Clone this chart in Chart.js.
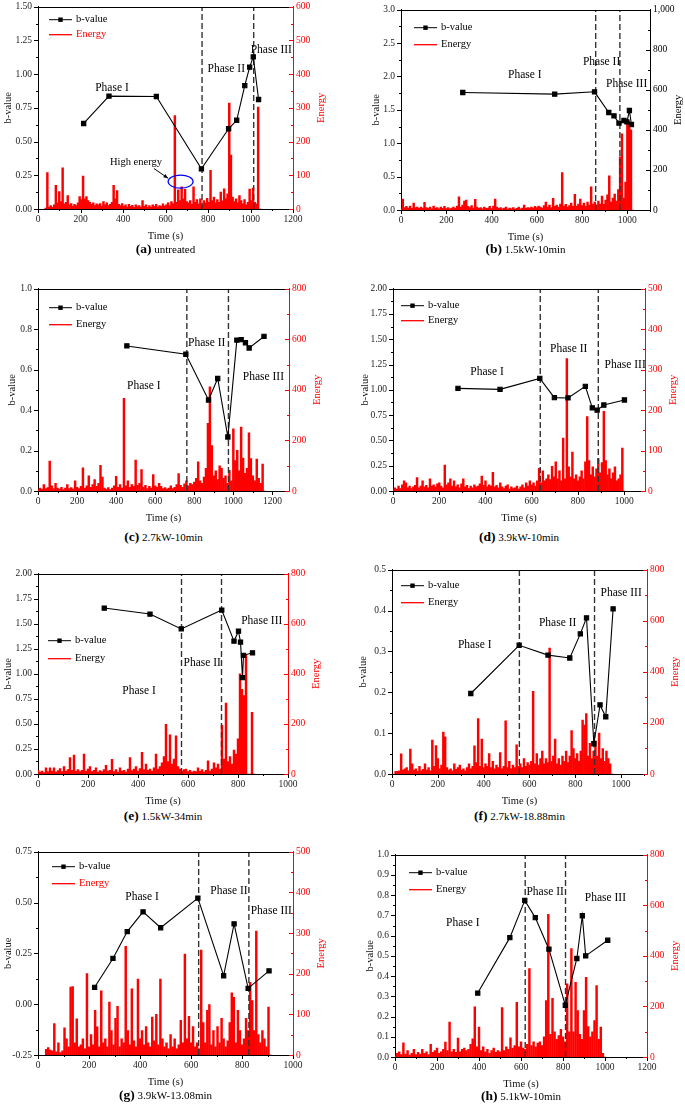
<!DOCTYPE html>
<html>
<head>
<meta charset="utf-8">
<script src="https://cdn.jsdelivr.net/npm/chart.js@4.4.1/dist/chart.umd.min.js"></script>
<style>
html, body { margin: 0; padding: 0; background: #fff; }
#page { position: relative; width: 685px; height: 1106px; overflow: hidden; font-family: 'Liberation Serif', 'Times New Roman', serif; }
.panel { position: absolute; }
.cap { position: absolute; transform: translate(-50%, -50%); white-space: nowrap; font-size: 11px; color: #000; }
.cap b { font-size: 13.5px; }
</style>
</head>
<body>
<div id="page"></div>
<script>
// ---- data ----
// b-value points (time s, b)
const aBTime = [215, 334, 557, 769, 897, 935, 973, 996, 1013, 1038];
const aBValue = [0.634, 0.837, 0.834, 0.298, 0.595, 0.658, 0.915, 1.052, 1.128, 0.812];
const bBTime = [273, 679, 855, 918, 941, 963, 985, 998, 1009, 1018];
const bBValue = [1.76, 1.735, 1.77, 1.46, 1.41, 1.30, 1.34, 1.32, 1.49, 1.28];
const cBTime = [455, 757, 873, 920, 972, 1018, 1040, 1062, 1081, 1157];
const cBValue = [0.717, 0.676, 0.450, 0.556, 0.267, 0.746, 0.748, 0.733, 0.707, 0.764];
const dBTime = [281, 463, 635, 698, 757, 832, 862, 883, 912, 1001];
const dBValue = [1.015, 1.005, 1.113, 0.923, 0.920, 1.034, 0.822, 0.80, 0.85, 0.90];
const eBTime = [265, 448, 573, 735, 784, 802, 810, 818, 822, 858];
const eBValue = [1.657, 1.597, 1.449, 1.637, 1.327, 1.426, 1.317, 0.963, 1.185, 1.21];
const fBTime = [344, 555, 681, 776, 822, 849, 881, 908, 933, 965];
const fBValue = [0.197, 0.315, 0.291, 0.284, 0.343, 0.382, 0.074, 0.169, 0.140, 0.404];
const gBTime = [222, 294, 350, 412, 481, 627, 728, 769, 824, 906];
const gBValue = [0.083, 0.225, 0.357, 0.454, 0.376, 0.522, 0.140, 0.395, 0.078, 0.164];
const hBTime = [394, 547, 618, 668, 733, 811, 866, 892, 908, 1013];
const hBValue = [0.316, 0.590, 0.774, 0.689, 0.533, 0.256, 0.487, 0.698, 0.500, 0.577];

// phase boundaries (s)
const aPhaseLines = [772, 1015];
const bPhaseLines = [860, 967];
const cPhaseLines = [762, 975];
const dPhaseLines = [637, 888];
const ePhaseLines = [574, 734];
const fPhaseLines = [556, 884];
const gPhaseLines = [630, 827];
const hPhaseLines = [620, 812];

// energy, read at a fixed time step from the picture
const aEnergyStart = 36, aEnergyStep = 8;
const aEnergy = [
  3, 108, 6, 10, 5, 12, 70, 18, 52, 22,
  122, 15, 20, 40, 12, 16, 9, 14, 10, 18,
  37, 28, 98, 30, 37, 25, 20, 14, 18, 10,
  15, 12, 16, 9, 22, 12, 18, 10, 14, 20,
  70, 30, 55, 14, 10, 16, 8, 12, 6, 14,
  8, 11, 5, 12, 7, 10, 6, 25, 8, 12,
  5, 10, 6, 12, 8, 14, 6, 10, 8, 15,
  9, 12, 18, 10, 22, 15, 277, 20, 57, 25,
  66, 30, 58, 22, 18, 25, 14, 66, 20, 28,
  15, 30, 12, 25, 18, 32, 20, 115, 25, 35,
  18, 28, 20, 50, 24, 60, 30, 45, 314, 160,
  35, 22, 30, 18, 40, 25, 15, 28, 12, 20,
  59, 25, 62, 20, 15, 302, 0
];
const bEnergyStart = 0, bEnergyStep = 8;
const bEnergy = [
  5, 55, 12, 18, 10, 20, 8, 35, 12, 15,
  8, 14, 10, 38, 12, 8, 15, 6, 20, 10,
  12, 6, 14, 8, 18, 7, 12, 6, 10, 14,
  8, 20, 66, 15, 25, 45, 50, 18, 12, 22,
  10, 53, 14, 8, 12, 6, 15, 8, 10, 18,
  7, 20, 55, 14, 8, 12, 6, 10, 15, 5,
  9, 6, 12, 5, 8, 14, 6, 10, 25, 8,
  12, 9, 15, 10, 18, 12, 20, 14, 10, 22,
  40, 15, 25, 12, 58, 18, 25, 14, 30, 187,
  20, 28, 15, 22, 35, 18, 78, 20, 30, 55,
  22, 35, 18, 40, 25, 116, 30, 40, 25, 45,
  30, 70, 28, 50, 76, 170, 40, 60, 80, 45,
  102, 265, 380, 60, 140, 430, 440, 400, 0
];
const cEnergyStart = 0, cEnergyStep = 10;
const cEnergy = [
  5, 12, 8, 25, 10, 14, 118, 20, 10, 30,
  12, 8, 15, 6, 12, 25, 10, 14, 8, 40,
  15, 10, 18, 92, 12, 20, 60, 15, 25, 45,
  18, 30, 102, 55, 12, 8, 14, 6, 12, 20,
  58, 15, 25, 12, 366, 20, 40, 15, 25, 18,
  122, 22, 30, 85, 15, 22, 10, 18, 12, 65,
  20, 15, 30, 18, 10, 14, 8, 12, 20, 10,
  15, 25, 69, 22, 15, 28, 40, 20, 30, 25,
  35, 50, 115, 40, 30, 55, 90, 268, 412, 180,
  60, 80, 45, 100, 90, 50, 60, 30, 82, 40,
  246, 120, 161, 80, 253, 130, 70, 90, 230, 128,
  60, 40, 126, 50, 30, 106, 0
];
const dEnergyStart = 0, dEnergyStep = 8;
const dEnergy = [
  3, 8, 5, 12, 6, 15, 25, 20, 8, 12,
  6, 10, 14, 33, 8, 12, 25, 10, 14, 8,
  30, 12, 15, 10, 18, 20, 12, 8, 64, 15,
  20, 30, 12, 25, 10, 15, 8, 18, 30, 10,
  14, 6, 12, 8, 15, 10, 12, 18, 37, 14,
  25, 10, 15, 12, 46, 10, 14, 8, 20, 10,
  6, 12, 15, 5, 10, 6, 8, 12, 5, 10,
  15, 8, 20, 12, 25, 15, 20, 12, 25, 56,
  20, 50, 25, 30, 40, 28, 61, 35, 72, 30,
  50, 25, 131, 30, 327, 60, 35, 96, 30, 40,
  25, 35, 50, 30, 72, 184, 75, 40, 60, 35,
  55, 80, 45, 70, 197, 75, 40, 55, 30, 45,
  60, 25, 30, 40, 106, 0
];
const eEnergyStart = 0, eEnergyStep = 8;
const eEnergy = [
  15, 8, 12, 6, 25, 10, 25, 12, 25, 8,
  14, 22, 10, 30, 12, 18, 66, 15, 76, 12,
  18, 10, 15, 80, 12, 20, 30, 10, 15, 25,
  8, 14, 10, 18, 35, 12, 15, 59, 10, 18,
  8, 25, 12, 15, 8, 20, 66, 14, 20, 30,
  12, 22, 87, 18, 40, 15, 20, 12, 25, 80,
  20, 30, 45, 70, 198, 50, 156, 40, 60, 152,
  30, 20, 12, 18, 20, 10, 15, 8, 12, 10,
  25, 12, 18, 8, 15, 53, 12, 20, 45, 25,
  40, 20, 194, 60, 283, 50, 70, 40, 96, 80,
  140, 400, 338, 313, 477, 0, 0, 246, 0
];
const fEnergyStart = 8, fEnergyStep = 8;
const fEnergy = [
  0, 10, 10, 12, 79, 15, 20, 25, 12, 98,
  40, 15, 20, 10, 30, 12, 18, 40, 15, 25,
  12, 133, 30, 111, 60, 20, 35, 164, 146, 25,
  15, 20, 12, 40, 18, 25, 35, 15, 20, 12,
  25, 40, 20, 30, 110, 45, 217, 30, 137, 25,
  40, 30, 80, 25, 50, 20, 35, 25, 84, 20,
  30, 208, 25, 50, 20, 35, 25, 114, 30, 40,
  25, 60, 30, 45, 35, 50, 324, 40, 80, 35,
  60, 90, 40, 60, 45, 493, 50, 70, 137, 40,
  60, 35, 70, 50, 90, 45, 70, 170, 100, 60,
  80, 50, 90, 211, 192, 237, 70, 120, 60, 90,
  130, 70, 160, 60, 100, 50, 90, 60, 40, 0
];
const gEnergyStart = 32, gEnergyStep = 8;
const gEnergy = [
  14, 18, 12, 10, 77, 8, 30, 6, 10, 67,
  40, 20, 167, 168, 30, 89, 20, 25, 40, 15,
  200, 20, 50, 25, 110, 69, 20, 158, 30, 40,
  20, 130, 60, 25, 90, 120, 20, 40, 30, 267,
  60, 25, 163, 35, 20, 187, 40, 60, 25, 70,
  30, 20, 93, 35, 100, 25, 187, 40, 20, 30,
  15, 50, 20, 40, 15, 25, 85, 30, 248, 40,
  95, 30, 70, 20, 30, 15, 258, 80, 30, 110,
  124, 25, 60, 20, 70, 30, 90, 40, 20, 35,
  80, 153, 142, 30, 110, 60, 25, 40, 90, 60,
  179, 134, 60, 305, 50, 30, 60, 40, 20, 118,
  0
];
const hEnergyStart = 0, hEnergyStep = 10;
const hEnergy = [
  5, 15, 20, 10, 56, 12, 25, 8, 15, 30,
  10, 18, 12, 30, 15, 20, 10, 50, 18, 25,
  35, 15, 20, 30, 59, 25, 138, 20, 30, 18,
  75, 20, 30, 35, 25, 30, 50, 72, 198, 40,
  118, 25, 40, 20, 30, 15, 25, 35, 18, 25,
  20, 195, 25, 40, 30, 76, 35, 45, 216, 40,
  60, 35, 30, 50, 350, 45, 60, 40, 55, 60,
  45, 80, 223, 564, 90, 232, 100, 70, 85, 109,
  80, 60, 289, 100, 429, 100, 295, 184, 90, 70,
  184, 315, 120, 80, 100, 144, 282, 70, 118, 15,
  0
];

// ---- layout of the eight panels (page pixels) ----
const FAMILY = "'Liberation Serif', 'Times New Roman', serif";
const RED = '#ff0000';
const TOP_PAD = 10, RIGHT_W = 36, BOTTOM_H = 34;

const panels = [
  { key: 'a', caption: 'untreated', L: 38, R: 293, T: 5, B: 209, leftW: 36, capY: 249,
    xMax: 1200, xStep: 200, yMin: 0, yMax: 1.5, yStep: 0.25, yDec: 2, eMax: 600, eStep: 100,
    rightColor: RED, energyText: RED, legend: { dx: 11, dy: 13, gap: 15 },
    time: aBTime, bval: aBValue, e0: aEnergyStart, edt: aEnergyStep, energy: aEnergy, lines: aPhaseLines,
    phaseText: [['Phase I', 348, 0.90], ['Phase II', 886, 1.04], ['Phase III', 1098, 1.18]],
    note: { text: 'High energy', tx: 461, tb: 0.345, ex: 671, eb: 0.203, rx: 12.5, ry: 6.5, from: [546, 0.30], to: [612, 0.228] } },
  { key: 'b', caption: '1.5kW-10min', L: 401, R: 650, T: 8, B: 210, leftW: 31, capY: 249,
    xMax: 1100, xStep: 200, yMin: 0, yMax: 3, yStep: 0.5, yDec: 1, eMax: 1000, eStep: 200,
    rightColor: '#000', energyText: '#000', legend: { dx: 13, dy: 18, gap: 17 },
    time: bBTime, bval: bBValue, e0: bEnergyStart, edt: bEnergyStep, energy: bEnergy, lines: bPhaseLines,
    phaseText: [['Phase I', 547, 2.02], ['Phase II', 886, 2.22], ['Phase III', 997, 1.88]] },
  { key: 'c', caption: '2.7kW-10min', L: 38, R: 289, T: 287, B: 491, leftW: 32, capY: 537,
    xMax: 1285, xStep: 200, yMin: 0, yMax: 1, yStep: 0.2, yDec: 1, eMax: 800, eStep: 200,
    rightColor: RED, energyText: '#000', legend: { dx: 11, dy: 19, gap: 17 },
    time: cBTime, bval: cBValue, e0: cEnergyStart, edt: cEnergyStep, energy: cEnergy, lines: cPhaseLines,
    phaseText: [['Phase I', 542, 0.517], ['Phase II', 864, 0.73], ['Phase III', 1154, 0.566]] },
  { key: 'd', caption: '3.9kW-10min', L: 393, R: 645, T: 287, B: 491, leftW: 34, capY: 537,
    xMax: 1090, xStep: 200, yMin: 0, yMax: 2, yStep: 0.25, yDec: 2, eMax: 500, eStep: 100,
    rightColor: RED, energyText: '#000', legend: { dx: 8, dy: 17, gap: 15 },
    time: dBTime, bval: dBValue, e0: dEnergyStart, edt: dEnergyStep, energy: dEnergy, lines: dPhaseLines,
    phaseText: [['Phase I', 407, 1.18], ['Phase II', 760, 1.40], ['Phase III', 1004, 1.244]] },
  { key: 'e', caption: '1.5kW-34min', L: 38, R: 288, T: 572, B: 774, leftW: 36, capY: 816,
    xMax: 1000, xStep: 200, yMin: 0, yMax: 2, yStep: 0.25, yDec: 2, eMax: 800, eStep: 200,
    rightColor: RED, energyText: '#000', legend: { dx: 10, dy: 67, gap: 18 },
    time: eBTime, bval: eBValue, e0: eEnergyStart, edt: eEnergyStep, energy: eEnergy, lines: ePhaseLines,
    phaseText: [['Phase I', 404, 0.83], ['Phase II', 657, 1.11], ['Phase III', 895, 1.525]] },
  { key: 'f', caption: '2.7kW-18.88min', L: 392, R: 647, T: 568, B: 774, leftW: 35, capY: 816,
    xMax: 1113, xStep: 200, yMin: 0, yMax: 0.5, yStep: 0.1, yDec: 1, eMax: 800, eStep: 200,
    rightColor: RED, energyText: '#000', legend: { dx: 9, dy: 16, gap: 17 },
    time: fBTime, bval: fBValue, e0: fEnergyStart, edt: fEnergyStep, energy: fEnergy, lines: fPhaseLines,
    phaseText: [['Phase I', 361, 0.315], ['Phase II', 723, 0.37], ['Phase III', 1000, 0.444]] },
  { key: 'g', caption: '3.9kW-13.08min', L: 38, R: 293, T: 850, B: 1055, leftW: 36, capY: 1095,
    xMax: 1000, xStep: 200, yMin: -0.25, yMax: 0.75, yStep: 0.25, yDec: 2, eMax: 500, eStep: 100,
    rightColor: RED, energyText: RED, legend: { dx: 14, dy: 15, gap: 17 },
    time: gBTime, bval: gBValue, e0: gEnergyStart, edt: gEnergyStep, energy: gEnergy, lines: gPhaseLines,
    phaseText: [['Phase I', 408, 0.527], ['Phase II', 749, 0.558], ['Phase III', 915, 0.457]] },
  { key: 'h', caption: '5.1kW-10min', L: 395, R: 647, T: 853, B: 1057, leftW: 31, capY: 1096,
    xMax: 1200, xStep: 200, yMin: 0, yMax: 1, yStep: 0.1, yDec: 1, eMax: 800, eStep: 200,
    rightColor: RED, energyText: '#000', legend: { dx: 14, dy: 18, gap: 17 },
    time: hBTime, bval: hBValue, e0: hEnergyStart, edt: hEnergyStep, energy: hEnergy, lines: hPhaseLines,
    phaseText: [['Phase I', 323, 0.664], ['Phase II', 715, 0.816], ['Phase III', 1002, 0.787]] }
];

Chart.defaults.font.family = FAMILY;

function seg(ctx, x1, y1, x2, y2) {
  ctx.beginPath();
  ctx.moveTo(x1, y1);
  ctx.lineTo(x2, y2);
  ctx.stroke();
}

// major + minor tick marks along a scale
function marks(ctx, scale, step, color, draw) {
  ctx.strokeStyle = color;
  ctx.lineWidth = 1;
  const half = step / 2;
  const n = Math.floor((scale.max - scale.min) / half + 1e-6);
  for (let k = 0; k <= n; k++) {
    const px = Math.round(scale.getPixelForValue(scale.min + k * half)) + 0.5;
    draw(px, k % 2 === 0 ? 4 : 2);
  }
}

function decorPlugin(p) {
  return {
    id: 'decor_' + p.key,
    afterDraw(chart) {
      const { ctx, chartArea: a, scales } = chart;
      const sx = scales.x, sy = scales.y, se = scales.y1;
      ctx.save();

      ctx.strokeStyle = '#000';
      ctx.lineWidth = 1;
      seg(ctx, a.left, Math.round(a.top) + 0.5, a.right, Math.round(a.top) + 0.5);

      marks(ctx, sx, p.xStep, '#000', (px, len) => seg(ctx, px, a.bottom, px, a.bottom + len));
      marks(ctx, sy, p.yStep, '#000', (py, len) => seg(ctx, a.left - len, py, a.left, py));
      marks(ctx, se, p.eStep, p.rightColor, (py, len) => seg(ctx, a.right - len, py, a.right, py));

      // right axis title, reading upward like the left one
      ctx.save();
      ctx.translate(a.right + 28, (a.top + a.bottom) / 2);
      ctx.rotate(-Math.PI / 2);
      ctx.fillStyle = p.rightColor;
      ctx.font = '10.5px ' + FAMILY;
      ctx.textAlign = 'center';
      ctx.textBaseline = 'middle';
      ctx.fillText('Energy', 0, 0);
      ctx.restore();

      // phase labels
      ctx.fillStyle = '#000';
      ctx.font = '11.5px ' + FAMILY;
      ctx.textAlign = 'center';
      ctx.textBaseline = 'middle';
      p.phaseText.forEach(([txt, t, b]) => {
        ctx.fillText(txt, sx.getPixelForValue(t), sy.getPixelForValue(b));
      });

      // legend
      const lx = a.left + p.legend.dx, ly = a.top + p.legend.dy, ly2 = ly + p.legend.gap;
      ctx.strokeStyle = '#000';
      ctx.lineWidth = 1;
      seg(ctx, lx, ly, lx + 23, ly);
      ctx.fillStyle = '#000';
      ctx.fillRect(lx + 11.5 - 2.2, ly - 2.2, 4.4, 4.4);
      ctx.font = '10.5px ' + FAMILY;
      ctx.textAlign = 'left';
      ctx.fillText('b-value', lx + 27, ly);
      ctx.strokeStyle = RED;
      ctx.lineWidth = 1.3;
      seg(ctx, lx, ly2, lx + 23, ly2);
      ctx.fillStyle = p.energyText;
      ctx.fillText('Energy', lx + 27, ly2);

      if (p.note) {
        const n = p.note;
        ctx.strokeStyle = '#0000ff';
        ctx.lineWidth = 1.2;
        ctx.beginPath();
        ctx.ellipse(sx.getPixelForValue(n.ex), sy.getPixelForValue(n.eb), n.rx, n.ry, 0, 0, Math.PI * 2);
        ctx.stroke();
        const x1 = sx.getPixelForValue(n.from[0]), y1 = sy.getPixelForValue(n.from[1]);
        const x2 = sx.getPixelForValue(n.to[0]), y2 = sy.getPixelForValue(n.to[1]);
        ctx.strokeStyle = '#000';
        ctx.lineWidth = 1;
        seg(ctx, x1, y1, x2, y2);
        const ang = Math.atan2(y2 - y1, x2 - x1);
        ctx.fillStyle = '#000';
        ctx.beginPath();
        ctx.moveTo(x2, y2);
        ctx.lineTo(x2 - 5 * Math.cos(ang - 0.4), y2 - 5 * Math.sin(ang - 0.4));
        ctx.lineTo(x2 - 5 * Math.cos(ang + 0.4), y2 - 5 * Math.sin(ang + 0.4));
        ctx.closePath();
        ctx.fill();
        ctx.font = '10.5px ' + FAMILY;
        ctx.textAlign = 'center';
        ctx.fillText(n.text, sx.getPixelForValue(n.tx), sy.getPixelForValue(n.tb));
      }
      ctx.restore();
    }
  };
}

function buildPanel(p) {
  const page = document.getElementById('page');
  const W = p.leftW + (p.R - p.L) + RIGHT_W;
  const H = TOP_PAD + (p.B - p.T) + BOTTOM_H;
  const wrap = document.createElement('div');
  wrap.className = 'panel';
  wrap.style.left = (p.L - p.leftW) + 'px';
  wrap.style.top = (p.T - TOP_PAD) + 'px';
  wrap.style.width = W + 'px';
  wrap.style.height = H + 'px';
  const cv = document.createElement('canvas');
  cv.width = W;
  cv.height = H;
  cv.style.width = W + 'px';
  cv.style.height = H + 'px';
  wrap.appendChild(cv);
  page.appendChild(wrap);

  const cap = document.createElement('div');
  cap.className = 'cap';
  cap.style.left = ((p.L + p.R) / 2) + 'px';
  cap.style.top = p.capY + 'px';
  cap.innerHTML = '<b>(' + p.key + ')</b> ' + p.caption;
  page.appendChild(cap);

  const energyPts = p.energy.map((e, i) => ({ x: p.e0 + i * p.edt, y: e }));
  const bPts = p.time.map((t, i) => ({ x: t, y: p.bval[i] }));
  const phaseSets = p.lines.map(t => ({
    data: [{ x: t, y: p.yMin }, { x: t, y: p.yMax }],
    yAxisID: 'y', borderColor: '#333', borderWidth: 1.4, borderDash: [6, 3],
    pointRadius: 0, fill: false, order: 2
  }));

  const tickFont = { size: 9.5, family: FAMILY };
  const titleFont = { size: 10.5, family: FAMILY };

  new Chart(cv, {
    type: 'line',
    data: {
      datasets: [
        { type: 'bar', label: 'Energy', data: energyPts, yAxisID: 'y1',
          backgroundColor: RED, borderWidth: 0, barThickness: 1.8, order: 3 },
        { label: 'b-value', data: bPts, yAxisID: 'y', borderColor: '#000', borderWidth: 1.1,
          pointStyle: 'rect', pointRadius: 3, pointBackgroundColor: '#000', pointBorderColor: '#000',
          fill: false, order: 1 },
        ...phaseSets
      ]
    },
    options: {
      responsive: false,
      animation: false,
      events: [],
      layout: { padding: { top: TOP_PAD, left: 0, right: 0, bottom: 0 } },
      elements: { line: { tension: 0 } },
      plugins: { legend: { display: false }, tooltip: { enabled: false } },
      scales: {
        x: {
          type: 'linear', min: 0, max: p.xMax, offset: false,
          border: { color: '#000', width: 1 },
          grid: { display: false, drawTicks: false },
          ticks: { stepSize: p.xStep, includeBounds: false, autoSkip: false, maxRotation: 0,
                   font: tickFont, color: '#222', padding: 5, callback: v => String(v) },
          title: { display: true, text: 'Time (s)', font: titleFont, color: '#111', padding: 0 },
          afterFit(s) { s.height = BOTTOM_H; }
        },
        y: {
          position: 'left', min: p.yMin, max: p.yMax,
          border: { color: '#000', width: 1 },
          grid: { display: false, drawTicks: false },
          ticks: { stepSize: p.yStep, includeBounds: false, autoSkip: false, font: tickFont, color: '#222',
                   padding: 6, callback: v => Number(v).toFixed(p.yDec) },
          title: { display: true, text: 'b-value', font: titleFont, color: '#111', padding: 0 },
          afterFit(s) { s.width = p.leftW; }
        },
        y1: {
          position: 'right', min: 0, max: p.eMax,
          border: { color: p.rightColor, width: 1 },
          grid: { display: false, drawTicks: false },
          ticks: { stepSize: p.eStep, includeBounds: false, autoSkip: false, font: tickFont,
                   color: p.rightColor, padding: 3 },
          afterFit(s) { s.width = RIGHT_W; }
        }
      }
    },
    plugins: [decorPlugin(p)]
  });
}

panels.forEach(buildPanel);
</script>
</body>
</html>
